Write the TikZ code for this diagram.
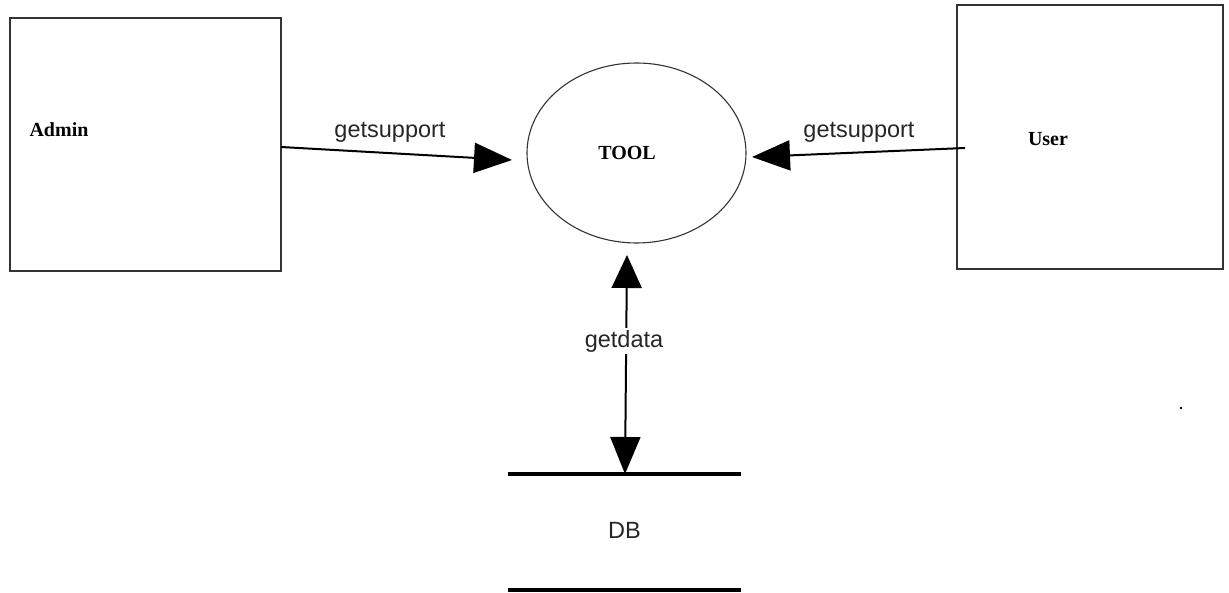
\documentclass[tikz,border=0pt]{standalone}
\usepackage{fontspec}
\setmainfont{Liberation Serif}
\newfontfamily\arialfont{Liberation Sans}
\usetikzlibrary{arrows.meta,shapes.geometric}
\tikzset{
  entbox/.style={draw=black!80, line width=1.1pt, minimum width=#1, inner sep=0pt},
  bold lbl/.style={font=\fontsize{20}{23}\selectfont\bfseries, inner sep=0pt},
  flow lbl/.style={font=\arialfont\fontsize{23.5}{26}\selectfont, inner sep=0pt, text=black!85},
  flow/.style={line width=2pt, -{Triangle[length=38pt,width=30pt]}},
  biflow/.style={line width=2pt, {Triangle[length=33pt,width=30pt]}-{Triangle[length=37pt,width=30pt]}},
  dbline/.style={line width=4pt}
}
\begin{document}
\begin{tikzpicture}[x=1pt,y=-1pt]
\useasboundingbox (0,0) rectangle (1229,593);
% entities
\node[entbox=271pt, minimum height=253pt] (admin) at (145.5,144.5) {};
\node[bold lbl] (admintext) at (59,130) {Admin};
\node[entbox=266pt, minimum height=264pt] (user) at (1090,137) {};
\node[bold lbl] (usertext) at (1048,139) {User};
\node[draw=black!80, line width=1.1pt, ellipse, minimum width=219pt, minimum height=180pt, inner sep=0pt] (tool) at (636.5,153) {};
\node[bold lbl] (tooltext) at (627,153) {TOOL};
% data store
\node[flow lbl] (db) at (624.5,530) {DB};
\coordinate (dbtop) at (625,474);
\coordinate (dbtopL) at (508,474);
\coordinate (dbtopR) at (741,474);
\coordinate (dbbotL) at (508,590);
\coordinate (dbbotR) at (741,590);
\draw[dbline] (dbtopL) -- (dbtopR);
\draw[dbline] (dbbotL) -- (dbbotR);
% flows
\coordinate (adminout) at (281,147);
\coordinate (toolinL) at (512,160);
\coordinate (userout) at (965,148);
\coordinate (toolinR) at (752,157);
\coordinate (toolbot) at (627,255);
\draw[flow] (adminout) -- (toolinL);
\draw[flow] (userout) -- (toolinR);
\draw[biflow] (toolbot) -- (dbtop);
% labels
\node[flow lbl] (lbl1) at (390,132) {getsupport};
\node[flow lbl] (lbl2) at (859,132) {getsupport};
\node[flow lbl, fill=white, inner sep=2pt] (lbl3) at (624,341) {getdata};
% stray dot
\fill (1181,408) circle (1.3pt);
\end{tikzpicture}
\end{document}
